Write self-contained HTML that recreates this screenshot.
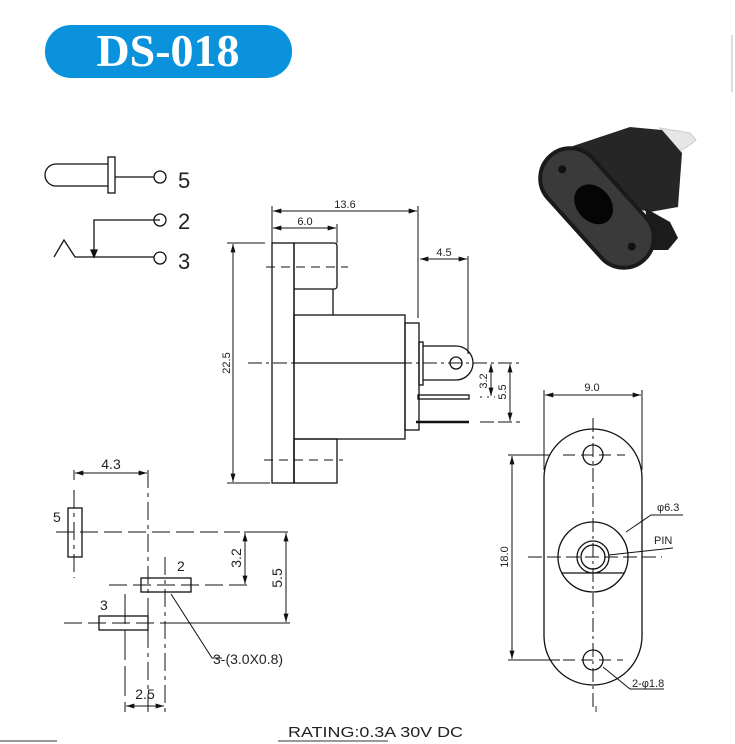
<!DOCTYPE html>
<html><head><meta charset="utf-8"><style>
html,body{margin:0;padding:0;background:#fff;width:735px;height:744px;overflow:hidden}
svg{display:block}
text{font-family:"Liberation Sans",Arial,sans-serif;fill:#222}
</style></head><body>
<svg width="735" height="744" viewBox="0 0 735 744" xmlns="http://www.w3.org/2000/svg">
<defs>
<marker id="a" viewBox="0 0 10 6" refX="10" refY="3" markerWidth="9" markerHeight="5" orient="auto-start-reverse" markerUnits="userSpaceOnUse"><path d="M0,0 L10,3 L0,6 z" fill="#111"/></marker>
</defs>
<!-- title -->
<rect x="45" y="25" width="247" height="53" rx="26" fill="#0a93dc"/>
<text x="168" y="66" text-anchor="middle" style="font-family:'Liberation Serif',serif;font-weight:bold;font-size:46px;fill:#fff">DS-018</text>
<line x1="732" y1="35" x2="732" y2="92" stroke="#bbb" stroke-width="1"/>

<g stroke="#111" stroke-width="1.3" fill="none">
<!-- schematic -->
<path d="M108,164 H56 A11,11 0 0 0 56,186 H108"/>
<rect x="108" y="157" width="7" height="36"/>
<line x1="115" y1="177" x2="154" y2="177"/>
<circle cx="160" cy="177" r="6"/>
<polyline points="160,220 94,220 94,255"/>
<path d="M91,250 L94,257 L97,250 z" fill="#111"/>
<polyline points="54,257 64,240 75,257 154,257"/>
<circle cx="160" cy="220" r="6"/>
<circle cx="160" cy="258" r="6"/>
</g>
<g style="font-size:22px">
<text x="178" y="188">5</text><text x="178" y="229">2</text><text x="178" y="269">3</text>
</g>

<!-- photo -->
<path d="M660,128 L690,133 L696,140 L690,145 L678,152 Z" fill="#e6e6e6" stroke="#ccc"/>
<path d="M570,147 L630,127 L662,130 L682,153 L678,207 L650,212 L600,200 Z" fill="#262626"/>
<path d="M645,208 L670,222 L678,238 L668,250 L652,250 Z" fill="#1c1c1c"/>
<g transform="translate(597,208) rotate(48)">
<rect x="-70" y="-30" width="140" height="60" rx="30" fill="#3a3a3a" stroke="#1a1a1a" stroke-width="4"/>
<ellipse cx="-5" cy="0" rx="22" ry="17" fill="#050505"/>
<circle cx="-52" cy="0" r="4" fill="#111"/>
<circle cx="52" cy="0" r="4" fill="#111"/>
</g>

<!-- side view -->
<g stroke="#111" stroke-width="1.3" fill="none">
<rect x="272" y="243" width="22" height="240"/>
<path d="M294,243 H334 Q337,243 337,246 V286 Q337,289 334,289 H294"/>
<line x1="333" y1="289" x2="333" y2="315"/>
<path d="M294,243 V363 M294,439 V483"/>
<rect x="294" y="315" width="111" height="124"/>
<line x1="294" y1="363" x2="405" y2="363"/>
<rect x="294" y="439" width="43" height="44"/>
<rect x="405" y="323" width="14" height="107"/>
<rect x="419" y="342" width="4" height="43"/>
<path d="M423,346 H456 A17,17 0 0 1 456,380 H423"/>
<circle cx="456" cy="363" r="6"/>
<rect x="418" y="395" width="51" height="4"/>
<line x1="416" y1="422" x2="469" y2="422" stroke-width="2.5"/>
</g>
<g stroke="#111" stroke-width="1" fill="none">
<line x1="248" y1="363" x2="520" y2="363" stroke-dasharray="14,4,3,4"/>
<line x1="266" y1="267" x2="348" y2="267" stroke-dasharray="9,6"/>
<line x1="264" y1="460" x2="343" y2="460" stroke-dasharray="9,6"/>
<line x1="272" y1="206" x2="272" y2="243"/>
<line x1="418" y1="206" x2="418" y2="318"/>
<line x1="337" y1="224" x2="337" y2="243"/>
<line x1="273" y1="211" x2="417" y2="211" marker-start="url(#a)" marker-end="url(#a)"/>
<line x1="273" y1="228" x2="336" y2="228" marker-start="url(#a)" marker-end="url(#a)"/>
<line x1="468" y1="256" x2="468" y2="354"/>
<line x1="420" y1="259" x2="467" y2="259" marker-start="url(#a)" marker-end="url(#a)"/>
<line x1="227" y1="243" x2="265" y2="243"/>
<line x1="227" y1="483" x2="270" y2="483"/>
<line x1="233" y1="244" x2="233" y2="482" marker-start="url(#a)" marker-end="url(#a)"/>
<line x1="480" y1="397" x2="495" y2="397" stroke-dasharray="2,5"/>
<line x1="480" y1="422" x2="520" y2="422" stroke-dasharray="14,4"/>
<line x1="491" y1="364" x2="491" y2="396" marker-start="url(#a)" marker-end="url(#a)"/>
<line x1="510" y1="364" x2="510" y2="421" marker-start="url(#a)" marker-end="url(#a)"/>
</g>
<g style="font-size:11px">
<text x="345" y="208" text-anchor="middle">13.6</text>
<text x="305" y="225" text-anchor="middle">6.0</text>
<text x="444" y="256" text-anchor="middle">4.5</text>
<text transform="translate(230,363) rotate(-90)" text-anchor="middle">22.5</text>
<text transform="translate(487,381) rotate(-90)" text-anchor="middle">3.2</text>
<text transform="translate(506,392) rotate(-90)" text-anchor="middle">5.5</text>
</g>

<!-- front view -->
<g stroke="#111" stroke-width="1.3" fill="none">
<path d="M544,478 A49,49 0 0 1 642,478 V636 A49,49 0 0 1 544,636 Z"/>
<circle cx="593" cy="455" r="10"/>
<circle cx="593" cy="660" r="10"/>
<circle cx="593" cy="557" r="35"/>
<circle cx="593" cy="557" r="16"/>
<circle cx="593" cy="557" r="12"/>
<line x1="562" y1="573" x2="624" y2="573"/>
</g>
<g stroke="#111" stroke-width="1" fill="none">
<line x1="593" y1="418" x2="593" y2="710" stroke-dasharray="14,4,3,4"/>
<line x1="528" y1="557" x2="662" y2="557" stroke-dasharray="14,5"/>
<line x1="563" y1="455" x2="625" y2="455" stroke-dasharray="12,6"/>
<line x1="563" y1="660" x2="623" y2="660" stroke-dasharray="12,6"/>
<line x1="544" y1="390" x2="544" y2="470"/>
<line x1="642" y1="390" x2="642" y2="470"/>
<line x1="545" y1="395" x2="641" y2="395" marker-start="url(#a)" marker-end="url(#a)"/>
<line x1="508" y1="455" x2="550" y2="455"/>
<line x1="508" y1="660" x2="560" y2="660"/>
<line x1="512" y1="456" x2="512" y2="659" marker-start="url(#a)" marker-end="url(#a)"/>
<polyline points="626,532 651,515 683,515"/>
<polyline points="609,555 673,548"/>
<polyline points="603,667 630,689 664,689"/>
</g>
<g style="font-size:11px">
<text x="592" y="391" text-anchor="middle">9.0</text>
<text transform="translate(508,557) rotate(-90)" text-anchor="middle">18.0</text>
<text x="657" y="511">φ6.3</text>
<text x="654" y="544">PIN</text>
<text x="632" y="687">2-φ1.8</text>
</g>

<!-- pin layout -->
<g stroke="#111" stroke-width="1.3" fill="none">
<rect x="68" y="508" width="14" height="49"/>
<rect x="141" y="578" width="50" height="14"/>
<rect x="99" y="616" width="49" height="14"/>
</g>
<g stroke="#111" stroke-width="1" fill="none">
<line x1="74" y1="470" x2="74" y2="480"/>
<line x1="74" y1="490" x2="74" y2="578" stroke-dasharray="18,5,4,5"/>
<line x1="148" y1="470" x2="148" y2="712" stroke-dasharray="18,5,4,5"/>
<line x1="75" y1="473" x2="147" y2="473" marker-start="url(#a)" marker-end="url(#a)"/>
<line x1="56" y1="532" x2="240" y2="532" stroke-dasharray="18,6"/>
<line x1="244" y1="532" x2="288" y2="532"/>
<line x1="109" y1="585" x2="247" y2="585" stroke-dasharray="18,6"/>
<line x1="64" y1="623" x2="175" y2="623" stroke-dasharray="18,6"/>
<line x1="175" y1="623" x2="290" y2="623"/>
<line x1="245" y1="533" x2="245" y2="584" marker-start="url(#a)" marker-end="url(#a)"/>
<line x1="286" y1="533" x2="286" y2="622" marker-start="url(#a)" marker-end="url(#a)"/>
<line x1="125" y1="594" x2="125" y2="712" stroke-dasharray="30,6"/>
<line x1="165" y1="557" x2="165" y2="712" stroke-dasharray="18,5,4,5"/>
<line x1="126" y1="706" x2="164" y2="706" marker-start="url(#a)" marker-end="url(#a)"/>
<polyline points="171,594 212,658 222,658"/>
</g>
<g style="font-size:14px">
<text x="111" y="469" text-anchor="middle">4.3</text>
<text x="53" y="522">5</text>
<text x="177" y="571">2</text>
<text x="100" y="610">3</text>
<text transform="translate(241,558) rotate(-90)" text-anchor="middle">3.2</text>
<text transform="translate(282,578) rotate(-90)" text-anchor="middle">5.5</text>
<text x="145" y="699" text-anchor="middle">2.5</text>
<text x="213" y="664">3-(3.0X0.8)</text>
</g>

<text x="288" y="737" textLength="175" lengthAdjust="spacingAndGlyphs" style="font-size:15px">RATING:0.3A 30V DC</text>
<line x1="0" y1="741" x2="57" y2="741" stroke="#333" stroke-width="1"/>
<line x1="278" y1="741" x2="388" y2="741" stroke="#333" stroke-width="1"/>
<line x1="596" y1="706" x2="596" y2="712" stroke="#333" stroke-width="1"/>
</svg>
</body></html>
